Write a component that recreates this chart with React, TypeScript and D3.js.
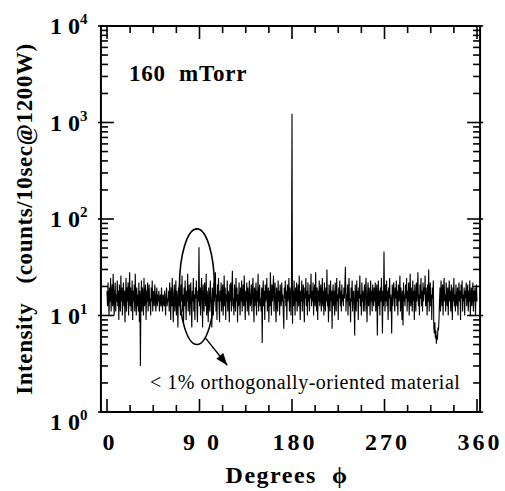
import React, { useEffect, useRef } from 'react';
import * as d3 from 'd3';

// angle step of the scan, degrees
const stepDeg = 0.5;

// intensity (counts), every 0.5 degree, 0..360
const intensity: number[] = [
  18, 12.5, 22, 15, 10, 19.5, 14, 24.5, 11, 16.5, 21, 12.5, 27, 15, 10, 18, 22, 11, 16.5, 14,
  23, 12.5, 18, 9, 21, 15, 11, 26, 14, 19.5, 10, 16.5, 22, 12.5, 18, 8.5, 15, 24.5, 11, 19.5,
  14, 22, 10, 16.5, 28, 12.5, 19.5, 11, 15, 23, 9, 18, 14, 21, 11, 27, 15, 10, 19.5, 12.5,
  16.5, 11, 22, 8.5, 18, 3.0, 14, 23, 11, 19.5, 15, 10, 24.5, 12.5, 16.5, 21, 9, 18, 14, 22,
  11, 16.5, 21, 12.5, 15, 10, 19.5, 14, 23, 11, 18, 15, 12.5, 21, 16.5, 11, 15, 19.5, 12.5, 16.5,
  14, 18, 11, 15, 16.5, 12.5, 19.5, 14, 11, 16.5, 15, 12.5, 18, 14, 10, 16.5, 19.5, 12.5, 15, 14,
  18, 11, 22, 15, 9, 19.5, 12.5, 24.5, 14, 8.5, 16.5, 21, 11, 15, 23, 10, 18, 14, 7.5, 19.5,
  12.5, 22, 15, 10, 21, 14, 26, 11, 16.5, 8.5, 19.5, 12.5, 23, 15, 9, 18, 14, 27, 11, 16.5,
  21, 10, 15, 22, 12.5, 7.5, 18, 14, 24.5, 11, 16.5, 9, 19.5, 15, 23, 12.5, 8.5, 18, 14, 51,
  12.5, 19.5, 10, 16.5, 24.5, 14, 7.5, 21, 15, 11, 22, 16.5, 12.5, 27, 10, 18, 14, 8.5, 19.5, 15,
  11, 23, 16.5, 12.5, 7.5, 19.5, 15, 10, 22, 14, 18, 28, 11, 16.5, 9, 21, 14, 24.5, 12.5, 8.5,
  18, 14, 22, 11, 16.5, 21, 10, 15, 26, 12.5, 19.5, 9, 16.5, 14, 23, 11, 18, 15, 8.5, 21,
  14, 22, 11, 18, 29, 12.5, 15, 10, 21, 16.5, 11, 24.5, 14, 19.5, 8.5, 16.5, 12.5, 22, 15, 10,
  19.5, 14, 23, 11, 16.5, 21, 12.5, 26, 15, 9, 18, 14, 22, 11, 19.5, 15, 10, 23, 16.5, 12.5,
  15, 21, 11, 18, 24.5, 14, 8.5, 19.5, 12.5, 16.5, 22, 10, 18, 14, 27, 11, 16.5, 21, 12.5, 15,
  11, 19.5, 5.2, 16.5, 23, 12.5, 18, 9, 21, 14, 16.5, 24.5, 11, 15, 19.5, 8.5, 18, 12.5, 28, 15,
  10, 21, 14, 18, 26, 11, 16.5, 22, 12.5, 8.5, 19.5, 15, 11, 23, 14, 18, 10, 21, 15, 12.5,
  22, 14, 16.5, 11, 7.3, 19.5, 15, 23, 12.5, 18, 9, 21, 14, 16.5, 24.5, 11, 19.5, 15, 10, 22,
  1230, 8.2, 18, 12.5, 23, 15, 10, 19.5, 14, 22, 11, 16.5, 21, 12.5, 26, 15, 9, 18, 14, 23,
  11, 16.5, 21, 14, 8.5, 19.5, 15, 24.5, 12.5, 18, 10, 22, 14, 16.5, 11, 21, 15, 27, 12.5, 18,
  14, 22, 10, 16.5, 21, 12.5, 28, 15, 11, 19.5, 9, 18, 14, 23, 12.5, 16.5, 21, 11, 15, 24.5,
  12.5, 18, 10, 22, 15, 11, 19.5, 14, 30, 12.5, 16.5, 8.5, 21, 15, 11, 23, 14, 18, 7.3, 16.5,
  21, 12.5, 18, 10, 22, 15, 11, 24.5, 14, 16.5, 9, 19.5, 15, 23, 12.5, 18, 11, 21, 14, 16.5,
  12.5, 19.5, 15, 22, 32, 11, 16.5, 14, 21, 10, 18, 24.5, 12.5, 15, 8.5, 19.5, 14, 23, 11, 16.5,
  18, 12.5, 6.2, 21, 15, 11, 23, 14, 18, 9, 19.5, 15, 26, 12.5, 16.5, 10, 22, 14, 18, 11,
  15, 21, 11, 18, 24.5, 14, 8.5, 16.5, 22, 12.5, 19.5, 15, 10, 23, 14, 18, 11, 21, 15, 12.5,
  19.5, 14, 22, 11, 16.5, 21, 6.2, 15, 23, 12.5, 18, 10, 19.5, 14, 24.5, 15, 6.5, 18, 12.5, 46,
  16.5, 11, 21, 14, 23, 12.5, 18, 9, 19.5, 15, 24.5, 11, 16.5, 14, 6.5, 21, 12.5, 18, 22, 15,
  11, 19.5, 15, 23, 12.5, 18, 10, 21, 14, 16.5, 26, 11, 19.5, 15, 9, 18, 7.9, 22, 14, 16.5,
  12.5, 21, 15, 24.5, 11, 18, 14, 22, 10, 16.5, 27, 12.5, 19.5, 15, 11, 23, 14, 18, 9, 21,
  15, 11, 22, 14, 18, 28, 12.5, 16.5, 10, 21, 15, 24.5, 12.5, 18, 11, 22, 14, 19.5, 16.5, 26,
  12.5, 19.5, 15, 10, 21, 14, 30, 11, 18, 22, 12.5, 16.5, 9, 19.5, 15, 23, 7.5, 6.5, 8.5, 5.8,
  7, 5.1, 6.2, 5.6, 7.5, 7, 9, 14, 19.5, 11, 23, 16.5, 12.5, 21, 10, 18, 24.5, 14, 16.5, 11,
  22, 15, 12.5, 19.5, 10, 16.5, 23, 14, 18, 11, 21, 15, 9, 19.5, 14, 24.5, 12.5, 16.5, 11, 21,
  15, 12.5, 19.5, 10, 16.5, 22, 14, 18, 9, 21, 15, 23, 11, 16.5, 14, 19.5, 10, 18, 15, 22,
  12.5, 16.5, 21, 11, 18, 14, 23, 10, 15, 19.5, 12.5, 16.5, 22, 11, 18, 14, 19.5, 10, 16.5, 21,
  14,
];

const xTickLabels = ['0', '9 0', '180', '270', '360'];
const xMajor = [0, 90, 180, 270, 360];
const yDecades = [0, 1, 2, 3, 4];

const serif = "'Liberation Serif', 'Times New Roman', Times, serif";

const App: React.FC = () => {
  const ref = useRef<SVGSVGElement>(null);
  const W = 505, H = 491;

  useEffect(() => {
    if (!ref.current) return;
    const svg = d3.select(ref.current);
    svg.selectAll('*').remove();

    const x = d3.scaleLinear().domain([0, 360]).range([107, 477]);
    const y = d3.scaleLog().domain([1, 1e4]).range([412, 26]);
    const fx0 = x(-5.9), fx1 = x(363);
    const [y0, y1] = y.range();

    const g = svg.append('g').attr('font-family', serif);

    // trace
    const line = d3.line<number>()
      .x((_, i) => x(i * stepDeg))
      .y(d => y(d));
    g.append('path')
      .datum(intensity)
      .attr('d', line)
      .attr('fill', 'none')
      .attr('stroke', '#000')
      .attr('stroke-width', 1.1);

    // frame
    g.append('rect')
      .attr('x', fx0).attr('y', y1)
      .attr('width', fx1 - fx0).attr('height', y0 - y1)
      .attr('fill', 'none').attr('stroke', '#000').attr('stroke-width', 2);

    // x ticks (bottom + top), every 22.5 deg
    const xt = d3.range(0, 360.01, 22.5);
    xt.forEach(v => {
      const major = v % 90 === 0;
      const len = major ? 13 : 7;
      g.append('line').attr('x1', x(v)).attr('x2', x(v))
        .attr('y1', y0).attr('y2', y0 - len)
        .attr('stroke', '#000').attr('stroke-width', 1.6);
      g.append('line').attr('x1', x(v)).attr('x2', x(v))
        .attr('y1', y1).attr('y2', y1 + len)
        .attr('stroke', '#000').attr('stroke-width', 1.6);
    });

    // y ticks (left + right), log minor ticks
    const yt: { v: number; major: boolean }[] = [];
    for (let e = 0; e < 4; e++) {
      for (let m = 1; m < 10; m++) yt.push({ v: m * Math.pow(10, e), major: m === 1 });
    }
    yt.push({ v: 1e4, major: true });
    yt.forEach(t => {
      const len = t.major ? 13 : 7;
      const out = t.major ? 3 : 0;
      g.append('line').attr('x1', fx0 - out).attr('x2', fx0 + len)
        .attr('y1', y(t.v)).attr('y2', y(t.v))
        .attr('stroke', '#000').attr('stroke-width', 1.6);
      g.append('line').attr('x1', fx1 + out).attr('x2', fx1 - len)
        .attr('y1', y(t.v)).attr('y2', y(t.v))
        .attr('stroke', '#000').attr('stroke-width', 1.6);
    });

    // x tick labels
    g.selectAll('.xlab').data(xMajor).enter().append('text')
      .attr('class', 'xlab')
      .attr('x', d => x(d) + 3)
      .attr('y', 450)
      .attr('text-anchor', 'middle')
      .attr('font-weight', 'bold')
      .attr('font-size', 24)
      .attr('letter-spacing', 3)
      .style('white-space', 'pre')
      .text((_, i) => xTickLabels[i]);

    // y tick labels 10^n
    yDecades.forEach(e => {
      const t = g.append('text')
        .attr('x', 50)
        .attr('y', y(Math.pow(10, e)) + 8 + (e === 0 ? 10 : 0))
        .attr('font-weight', 'bold')
        .attr('font-size', 24);
      t.append('tspan').text('1 0');
      t.append('tspan').attr('dy', -10).attr('font-size', 15).text(String(e));
    });

    // axis titles
    g.append('text')
      .attr('x', 287).attr('y', 483)
      .attr('text-anchor', 'middle')
      .attr('font-weight', 'bold').attr('font-size', 24)
      .attr('letter-spacing', 1.5)
      .style('white-space', 'pre')
      .text('Degrees  \u03d5');
    g.append('text')
      .attr('transform', `translate(32, ${(y0 + y1) / 2}) rotate(-90)`)
      .attr('text-anchor', 'middle')
      .attr('font-weight', 'bold').attr('font-size', 23)
      .attr('letter-spacing', 0.6)
      .style('white-space', 'pre')
      .text('Intensity   (counts/10sec@1200W)');

    // pressure label
    g.append('text')
      .attr('x', 129).attr('y', 81)
      .attr('font-weight', 'bold').attr('font-size', 23)
      .attr('letter-spacing', 0.8)
      .style('white-space', 'pre')
      .text('160  mTorr');

    // annotation: ellipse around the 90 deg feature + arrow
    const ex0 = x(70.5), ex1 = x(104.5);
    const ey0 = y(79), ey1 = y(5.0);
    g.append('ellipse')
      .attr('cx', (ex0 + ex1) / 2).attr('cy', (ey0 + ey1) / 2)
      .attr('rx', (ex1 - ex0) / 2).attr('ry', (ey1 - ey0) / 2)
      .attr('fill', 'none').attr('stroke', '#000').attr('stroke-width', 1.6);

    const ax0 = x(95.5), ay0 = y(5.9), ax1 = x(117), ay1 = y(3.05);
    g.append('line')
      .attr('x1', ax0).attr('y1', ay0).attr('x2', ax1).attr('y2', ay1)
      .attr('stroke', '#000').attr('stroke-width', 1.4);
    const ang = Math.atan2(ay1 - ay0, ax1 - ax0);
    const hl = 12, hw = 4.5;
    const bx = ax1 - hl * Math.cos(ang), by = ay1 - hl * Math.sin(ang);
    g.append('path')
      .attr('d', `M${ax1},${ay1} L${bx - hw * Math.sin(ang)},${by + hw * Math.cos(ang)} L${bx + hw * Math.sin(ang)},${by - hw * Math.cos(ang)} Z`)
      .attr('fill', '#000');

    g.append('text')
      .attr('x', 150).attr('y', 389)
      .attr('font-size', 20)
      .attr('letter-spacing', 0.5)
      .text('< 1% orthogonally-oriented material');
  }, []);

  return (
    <svg ref={ref} width={W} height={H}
      style={{ position: 'absolute', left: 0, top: 0, background: '#fff' }} />
  );
};

export default App;
